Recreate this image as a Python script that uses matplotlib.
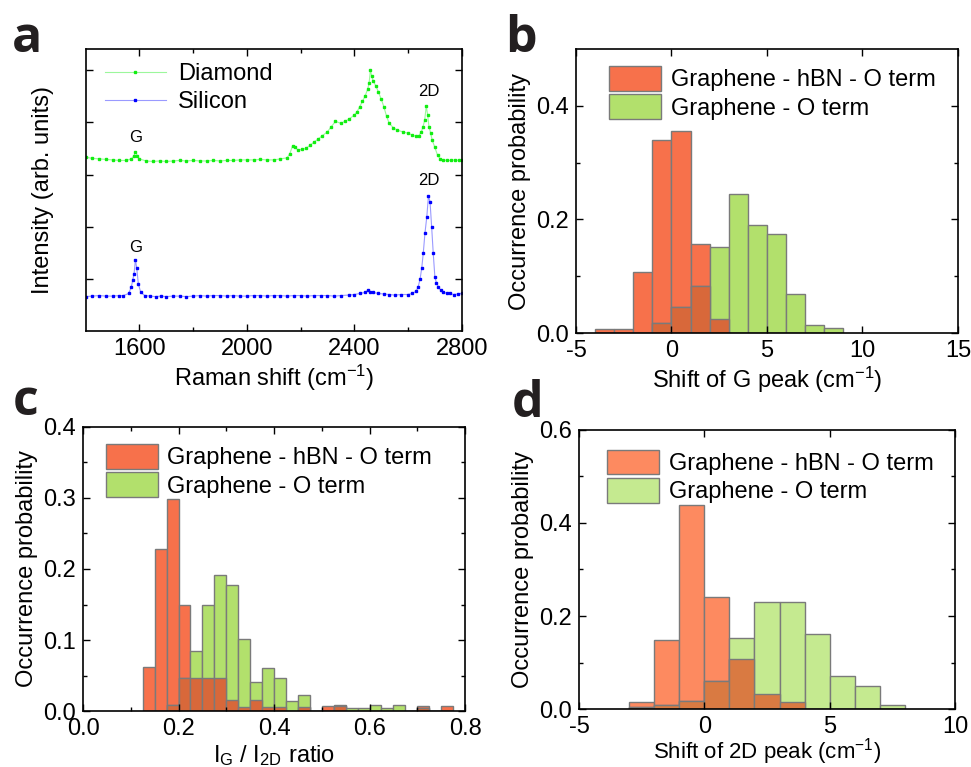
import numpy as np
import matplotlib
matplotlib.use('Agg')
from matplotlib import pyplot as plt

plt.rcParams['font.family'] = ['Liberation Sans', 'DejaVu Sans']
plt.rcParams['mathtext.default'] = 'regular'
plt.rcParams['axes.unicode_minus'] = False
plt.rcParams['xtick.direction'] = 'in'
plt.rcParams['ytick.direction'] = 'in'

# panel a: Raman spectra
DIAMOND_X = [1400, 1425, 1450, 1475, 1500, 1525, 1550, 1570, 1580, 1585, 1592, 1600, 1625, 1650,
             1675, 1700, 1725, 1750, 1775, 1800, 1825, 1850, 1875, 1900, 1925, 1950, 1975, 2000,
             2025, 2050, 2075, 2100, 2125, 2150, 2160, 2170, 2180, 2190, 2205, 2220, 2235, 2250,
             2265, 2280, 2300, 2315, 2330, 2350, 2365, 2380, 2400, 2410, 2420, 2430, 2440, 2450,
             2455, 2460, 2465, 2470, 2480, 2490, 2500, 2510, 2520, 2530, 2545, 2560, 2580, 2600,
             2615, 2630, 2640, 2650, 2656, 2662, 2668, 2673, 2678, 2684, 2690, 2700, 2710, 2720,
             2730, 2745, 2760, 2775, 2790, 2800]
DIAMOND_Y = [3.33, 3.31, 3.30, 3.29, 3.28, 3.27, 3.27, 3.30, 3.36, 3.44, 3.36, 3.30, 3.26, 3.25,
             3.26, 3.25, 3.26, 3.27, 3.26, 3.27, 3.26, 3.26, 3.27, 3.26, 3.27, 3.27, 3.28, 3.28,
             3.28, 3.29, 3.28, 3.28, 3.30, 3.32, 3.40, 3.55, 3.52, 3.47, 3.48, 3.50, 3.56, 3.62,
             3.68, 3.74, 3.82, 3.92, 4.02, 3.98, 4.02, 4.06, 4.14, 4.20, 4.30, 4.40, 4.50, 4.64,
             4.75, 5.00, 4.88, 4.80, 4.70, 4.58, 4.45, 4.30, 4.12, 3.98, 3.90, 3.85, 3.82, 3.79,
             3.76, 3.73, 3.74, 3.82, 3.92, 4.04, 4.31, 4.15, 3.92, 3.80, 3.66, 3.52, 3.37, 3.30,
             3.28, 3.27, 3.27, 3.28, 3.27, 3.28]
SILICON_X = [1400, 1425, 1450, 1475, 1500, 1525, 1540, 1560, 1570, 1575, 1580, 1585, 1590, 1596,
             1605, 1620, 1640, 1660, 1680, 1700, 1725, 1750, 1775, 1800, 1825, 1850, 1875, 1900,
             1925, 1950, 1975, 2000, 2025, 2050, 2075, 2100, 2125, 2150, 2175, 2200, 2225, 2250,
             2275, 2300, 2325, 2350, 2380, 2400, 2420, 2440, 2450, 2460, 2470, 2490, 2510, 2530,
             2550, 2575, 2600, 2615, 2630, 2638, 2645, 2651, 2657, 2663, 2670, 2676, 2682, 2688,
             2694, 2700, 2706, 2713, 2722, 2731, 2745, 2756, 2770, 2785, 2800]
SILICON_Y = [0.66, 0.67, 0.68, 0.67, 0.67, 0.68, 0.68, 0.72, 0.85, 0.98, 1.10, 1.37, 1.20, 0.90,
             0.74, 0.68, 0.67, 0.66, 0.67, 0.66, 0.67, 0.67, 0.66, 0.67, 0.68, 0.67, 0.68, 0.68,
             0.67, 0.68, 0.67, 0.67, 0.68, 0.68, 0.67, 0.68, 0.68, 0.67, 0.68, 0.68, 0.67, 0.68,
             0.68, 0.68, 0.67, 0.68, 0.69, 0.70, 0.72, 0.74, 0.78, 0.75, 0.74, 0.72, 0.71, 0.70,
             0.69, 0.70, 0.70, 0.72, 0.76, 0.85, 1.00, 1.20, 1.50, 1.87, 2.19, 2.58, 2.48, 2.00,
             1.49, 1.04, 0.92, 0.85, 0.78, 0.75, 0.72, 0.72, 0.70, 0.71, 0.72]

# panel b: shift of G peak, bin width 1
B_LEFT = [-4, -3, -2, -1, 0, 1, 2, 3, 4, 5, 6, 7, 8]
B_HBN = [0.007, 0.007, 0.107, 0.340, 0.356, 0.157, 0.025, 0, 0, 0, 0, 0, 0]
B_O = [0, 0, 0, 0.018, 0.046, 0.083, 0.152, 0.245, 0.190, 0.175, 0.069, 0.014, 0.009]

# panel c: IG/I2D ratio, bin width 0.025
C_LEFT = [0.125, 0.15, 0.175, 0.2, 0.225, 0.25, 0.275, 0.3, 0.325, 0.35, 0.375, 0.4, 0.425,
          0.45, 0.475, 0.5, 0.525, 0.55, 0.575, 0.6, 0.625, 0.65, 0.675, 0.7, 0.725, 0.75]
C_HBN = [0.062, 0.228, 0.299, 0.149, 0.046, 0.046, 0.046, 0.015, 0.006, 0.015, 0.006, 0.006, 0,
         0.006, 0, 0.007, 0.007, 0, 0, 0, 0, 0, 0, 0.007, 0, 0.007]
C_O = [0, 0, 0.008, 0.046, 0.084, 0.149, 0.191, 0.177, 0.102, 0.041, 0.060, 0.046, 0.014,
       0.022, 0, 0, 0.008, 0.004, 0.004, 0.008, 0.004, 0.008, 0, 0.004, 0, 0]

# panel d: shift of 2D peak, bin width 1
D_LEFT = [-3, -2, -1, 0, 1, 2, 3, 4, 5, 6, 7]
D_HBN = [0.016, 0.149, 0.439, 0.240, 0.107, 0.032, 0.016, 0, 0, 0, 0]
D_O = [0.005, 0.008, 0.018, 0.060, 0.152, 0.230, 0.230, 0.161, 0.072, 0.050, 0.008]

LABEL_HBN = 'Graphene - hBN - O term'
LABEL_O = 'Graphene - O term'
FS = 17

fig = plt.figure(figsize=(9.71, 7.67), dpi=100)


def style(ax):
    ax.tick_params(which='both', top=True, right=True, labelsize=FS, width=1, pad=5)
    ax.tick_params(which='major', length=5)
    ax.tick_params(which='minor', length=3)
    for s in ax.spines.values():
        s.set_linewidth(1.2)


def hist(ax, left, width, hbn, o, colors, anchor):
    left = np.array(left)
    hbn = np.array(hbn)
    o = np.array(o)
    c_hbn, c_o, c_mix = colors
    kw = dict(width=width, align='edge', edgecolor='#7a7a7a', linewidth=1)
    ax.bar(left, hbn, color=c_hbn, label=LABEL_HBN, **kw)
    ax.bar(left, o, color=c_o, label=LABEL_O, **kw)
    ax.bar(left, np.minimum(hbn, o), color=c_mix, **kw)
    ax.legend(loc='upper left', frameon=False, fontsize=FS, handlelength=2.2, handleheight=1.25,
              handletextpad=0.4, labelspacing=0.12, borderaxespad=0.0, borderpad=0.0,
              bbox_to_anchor=anchor)
    ax.set_ylabel('Occurrence probability', fontsize=FS, labelpad=4)


# a
ax = fig.add_axes([0.0883, 0.5684, 0.3872, 0.3673])
ax.plot(DIAMOND_X, DIAMOND_Y, color='#9cf79c', lw=0.8, marker='s', ms=1.8, mfc='#11ee11', mec='#11ee11', label='Diamond')
ax.plot(SILICON_X, SILICON_Y, color='#9a9aff', lw=0.8, marker='s', ms=1.8, mfc='#0000ff', mec='#0000ff', label='Silicon')
ax.set_xlim(1400, 2800)
ax.set_ylim(0, 5.4)
ax.set_xticks([1600, 2000, 2400, 2800])
ax.set_xticks([1800, 2200, 2600], minor=True)
ax.set_yticks([1, 2, 3, 4, 5])
ax.set_yticklabels([])
style(ax)
ax.set_xlabel('Raman shift (cm$^{-1}$)', fontsize=FS, labelpad=2)
ax.set_ylabel('Intensity (arb. units)', fontsize=FS, labelpad=18)
ax.text(1585, 3.62, 'G', fontsize=12, ha='center')
ax.text(2676, 4.5, '2D', fontsize=12, ha='center')
ax.text(1587, 1.52, 'G', fontsize=12, ha='center')
ax.text(2678, 2.8, '2D', fontsize=12, ha='center')
ax.legend(loc='upper left', frameon=False, fontsize=FS, numpoints=1, handlelength=2.6,
          handletextpad=0.5, labelspacing=0.25, borderaxespad=0.0, borderpad=0.0,
          bbox_to_anchor=(0.05, 0.95))

# b
ax = fig.add_axes([0.5932, 0.5658, 0.3934, 0.3703])
hist(ax, B_LEFT, 1, B_HBN, B_O, ('#f7714b', '#b2e06c', '#d8683a'), (0.087, 0.94))
ax.set_xlim(-5, 15)
ax.set_ylim(0, 0.5)
ax.set_xticks([-5, 0, 5, 10, 15])
ax.set_yticks([0, 0.2, 0.4])
ax.set_yticks([0.1, 0.3], minor=True)
ax.set_yticklabels(['0.0', '0.2', '0.4'])
style(ax)
ax.set_xlabel('Shift of G peak (cm$^{-1}$)', fontsize=FS, labelpad=2)

# c
ax = fig.add_axes([0.0855, 0.0730, 0.3934, 0.3703])
hist(ax, C_LEFT, 0.025, C_HBN, C_O, ('#f7714b', '#b2e06c', '#d8683a'), (0.06, 0.94))
ax.set_xlim(0, 0.8)
ax.set_ylim(0, 0.4)
ax.set_xticks([0, 0.2, 0.4, 0.6, 0.8])
ax.set_xticks([0.1, 0.3, 0.5, 0.7], minor=True)
ax.set_yticks([0, 0.1, 0.2, 0.3, 0.4])
ax.set_yticks([0.05, 0.15, 0.25, 0.35], minor=True)
ax.set_xticklabels(['0.0', '0.2', '0.4', '0.6', '0.8'])
ax.set_yticklabels(['0.0', '0.1', '0.2', '0.3', '0.4'])
style(ax)
ax.set_xlabel('I$_{G}$ / I$_{2D}$ ratio', fontsize=FS, labelpad=2)

# d
ax = fig.add_axes([0.5963, 0.0756, 0.3872, 0.3638])
hist(ax, D_LEFT, 1, D_HBN, D_O, ('#fd8a60', '#c5ea90', '#d97a42'), (0.075, 0.93))
ax.set_xlim(-5, 10)
ax.set_ylim(0, 0.6)
ax.set_xticks([-5, 0, 5, 10])
ax.set_yticks([0, 0.2, 0.4, 0.6])
ax.set_yticks([0.1, 0.3, 0.5], minor=True)
ax.set_yticklabels(['0.0', '0.2', '0.4', '0.6'])
style(ax)
ax.set_xlabel('Shift of 2D peak (cm$^{-1}$)', fontsize=16, labelpad=-1)

# panel letters
for x, y, t in [(12, 52, 'a'), (505, 52, 'b'), (13, 415, 'c'), (512, 417, 'd')]:
    fig.text(x / 971, 1 - y / 767, t, fontsize=36, fontweight='bold', family='Open Sans',
             va='baseline', color='#231f20')

fig.savefig('out.png', dpi=100)
